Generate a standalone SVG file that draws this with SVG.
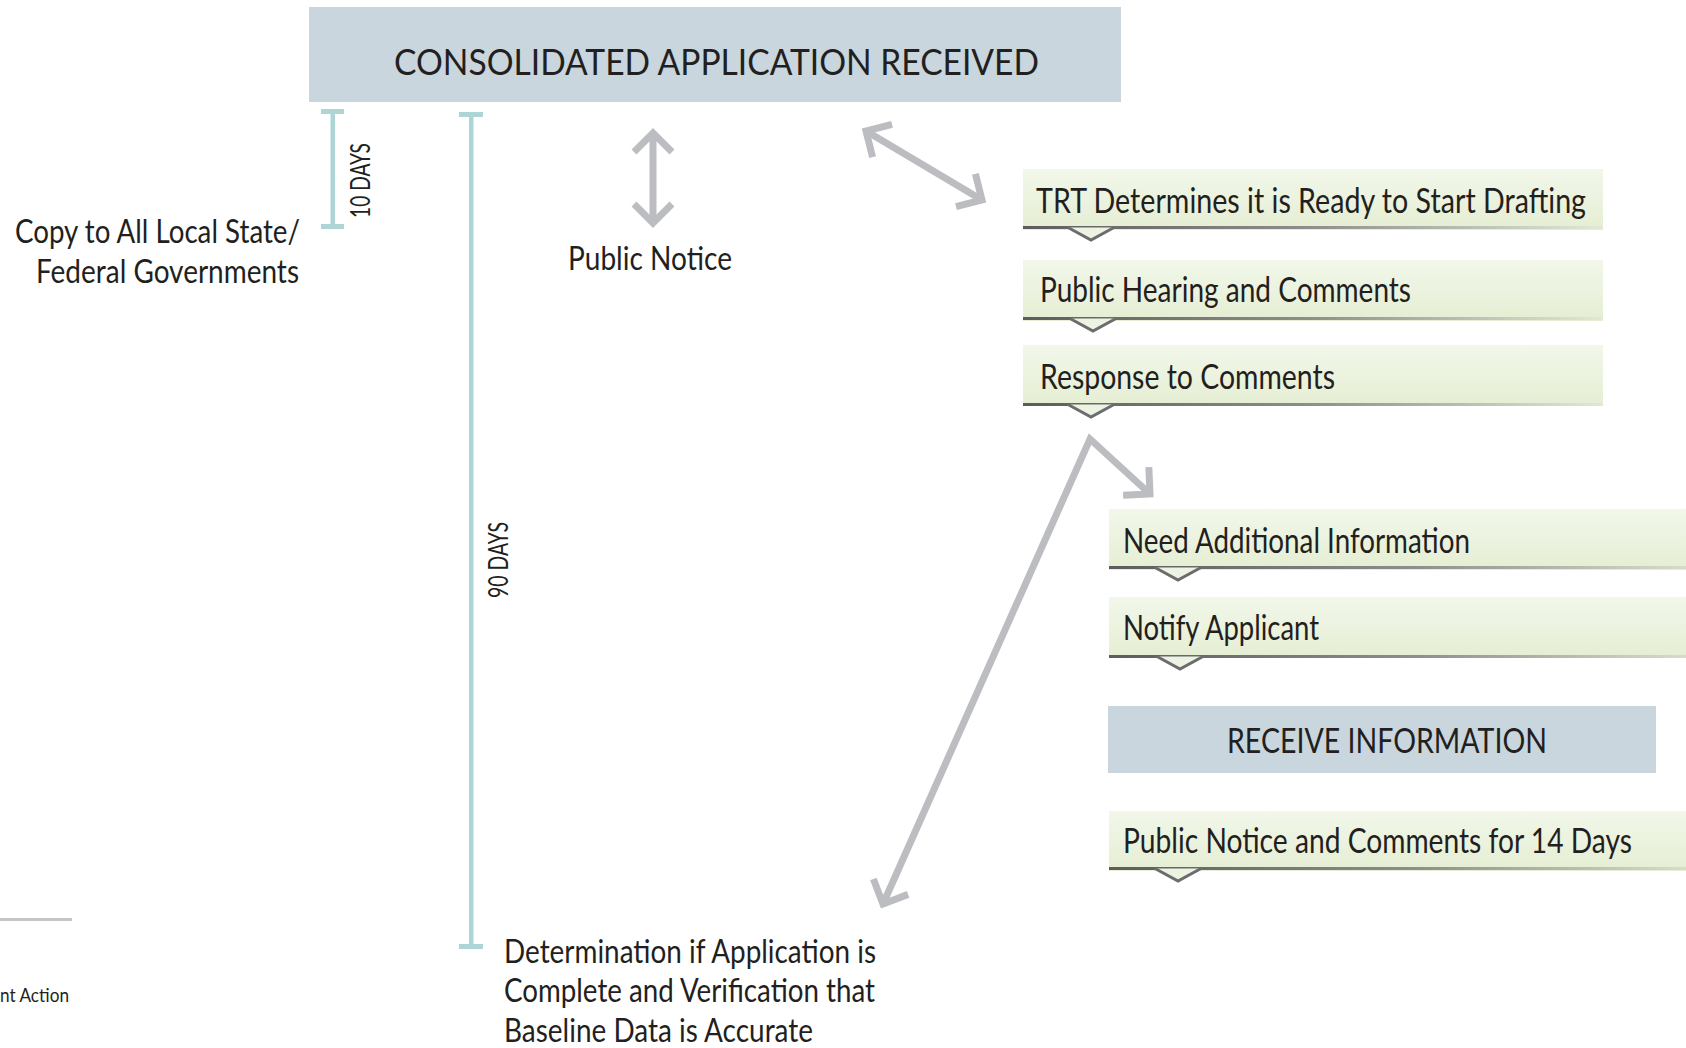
<svg xmlns="http://www.w3.org/2000/svg" width="1686" height="1048" viewBox="0 0 1686 1048">
<style>
  text { font-family: Lato, "Liberation Sans", sans-serif; fill: #231f20; }
  .blue { fill: #c9d6de; }
  .green { fill: url(#gfill); }
  .base { fill: url(#gline); }
  .tail { fill: #edf3e3; stroke: #6c6c6c; stroke-width: 3; stroke-linejoin: miter; }
  .teal { fill: #aed5d6; }
  .arrow { fill: none; stroke: #bcbdc0; stroke-width: 7; stroke-linejoin: miter; stroke-miterlimit: 10; marker-start: url(#chev); marker-end: url(#chev); }
  .one { marker-start: none; }
</style>
<defs>
  <linearGradient id="gfill" x1="0" y1="0" x2="0" y2="1">
    <stop offset="0" stop-color="#f2f7ea"/>
    <stop offset="1" stop-color="#e5eed3"/>
  </linearGradient>
  <linearGradient id="gline" x1="0" y1="0" x2="1" y2="0">
    <stop offset="0" stop-color="#5c5c5c"/>
    <stop offset="0.5" stop-color="#8e8f8c"/>
    <stop offset="1" stop-color="#e2e9d3"/>
  </linearGradient>
  <marker id="chev" markerUnits="userSpaceOnUse" markerWidth="60" markerHeight="60" viewBox="-30 -30 60 60" refX="0" refY="0" orient="auto-start-reverse">
    <path d="M-19,-19 L0,0 L-19,19" fill="none" stroke="#bcbdc0" stroke-width="7" stroke-linejoin="miter"/>
  </marker>
</defs>

<g id="consolidated-application-received">
  <rect class="blue" x="309" y="7" width="812" height="95"/>
  <text x="394" y="75" font-size="36" textLength="645" lengthAdjust="spacingAndGlyphs">CONSOLIDATED APPLICATION RECEIVED</text>
</g>

<g id="ten-days">
  <rect class="teal" x="330.5" y="110" width="4.5" height="118"/>
  <rect class="teal" x="321" y="109" width="23" height="5"/>
  <rect class="teal" x="321" y="224" width="23" height="5"/>
  <text x="370" y="218" font-size="27" textLength="75" lengthAdjust="spacingAndGlyphs" transform="rotate(-90 370 218)">10 DAYS</text>
</g>

<g id="ninety-days">
  <rect class="teal" x="469" y="113" width="4.5" height="835"/>
  <rect class="teal" x="459" y="112" width="24" height="5"/>
  <rect class="teal" x="459" y="944" width="24" height="5"/>
  <text x="508" y="598" font-size="27" textLength="76" lengthAdjust="spacingAndGlyphs" transform="rotate(-90 508 598)">90 DAYS</text>
</g>

<g id="copy-to-governments">
  <text x="300" y="243" font-size="32" text-anchor="end" textLength="285" lengthAdjust="spacingAndGlyphs">Copy to All Local State/</text>
  <text x="299" y="283" font-size="32" text-anchor="end" textLength="263" lengthAdjust="spacingAndGlyphs">Federal Governments</text>
</g>

<g id="public-notice">
  <text x="568" y="270" font-size="32" textLength="164" lengthAdjust="spacingAndGlyphs">Public Notice</text>
</g>

<g id="determination">
  <text x="504" y="963" font-size="32" textLength="372" lengthAdjust="spacingAndGlyphs">Determination if Application is</text>
  <text x="504" y="1002" font-size="32" textLength="371" lengthAdjust="spacingAndGlyphs">Complete and Verification that</text>
  <text x="504" y="1042" font-size="32" textLength="309" lengthAdjust="spacingAndGlyphs">Baseline Data is Accurate</text>
</g>

<g id="legend">
  <rect x="0" y="918" width="72" height="3" fill="#c4c5c7"/>
  <text x="69" y="1002" font-size="19" text-anchor="end" textLength="69" lengthAdjust="spacingAndGlyphs">nt Action</text>
</g>

<g id="trt-determines">
  <rect class="green" x="1023" y="169" width="580" height="61"/>
  <rect class="base" x="1023" y="226" width="580" height="3"/>
  <path class="tail" d="M1068,227.5 L1091,240 L1114,227.5"/>
  <text x="1036" y="213" font-size="34" textLength="550" lengthAdjust="spacingAndGlyphs">TRT Determines it is Ready to Start Drafting</text>
</g>

<g id="public-hearing">
  <rect class="green" x="1023" y="260" width="580" height="61"/>
  <rect class="base" x="1023" y="317" width="580" height="3"/>
  <path class="tail" d="M1070,318.5 L1093,331 L1116,318.5"/>
  <text x="1040" y="302" font-size="34" textLength="371" lengthAdjust="spacingAndGlyphs">Public Hearing and Comments</text>
</g>

<g id="response-to-comments">
  <rect class="green" x="1023" y="345" width="580" height="61"/>
  <rect class="base" x="1023" y="403" width="580" height="3"/>
  <path class="tail" d="M1068,404.5 L1091,417 L1114,404.5"/>
  <text x="1040" y="389" font-size="34" textLength="295" lengthAdjust="spacingAndGlyphs">Response to Comments</text>
</g>

<g id="need-additional-information">
  <rect class="green" x="1109" y="509" width="577" height="61"/>
  <rect class="base" x="1109" y="566" width="620" height="3"/>
  <path class="tail" d="M1155,567.5 L1178,580 L1201,567.5"/>
  <text x="1123" y="553" font-size="34" textLength="347" lengthAdjust="spacingAndGlyphs">Need Additional Information</text>
</g>

<g id="notify-applicant">
  <rect class="green" x="1109" y="597" width="577" height="61"/>
  <rect class="base" x="1109" y="655" width="620" height="3"/>
  <path class="tail" d="M1157,656.5 L1180,669 L1203,656.5"/>
  <text x="1123" y="640" font-size="34" textLength="196" lengthAdjust="spacingAndGlyphs">Notify Applicant</text>
</g>

<g id="receive-information">
  <rect class="blue" x="1108" y="706" width="548" height="67"/>
  <text x="1227" y="753" font-size="35" textLength="320" lengthAdjust="spacingAndGlyphs">RECEIVE INFORMATION</text>
</g>

<g id="public-notice-14-days">
  <rect class="green" x="1109" y="811" width="577" height="60"/>
  <rect class="base" x="1109" y="867" width="620" height="3"/>
  <path class="tail" d="M1155,868.5 L1178,881 L1201,868.5"/>
  <text x="1123" y="853" font-size="34" textLength="509" lengthAdjust="spacingAndGlyphs">Public Notice and Comments for 14 Days</text>
</g>

<g id="connectors">
  <path class="arrow" d="M653,133 L653,223"/>
  <path class="arrow" d="M866,131 L982,200"/>
  <path class="arrow" d="M883,904 L1090,439 L1150,494"/>
</g>
</svg>
